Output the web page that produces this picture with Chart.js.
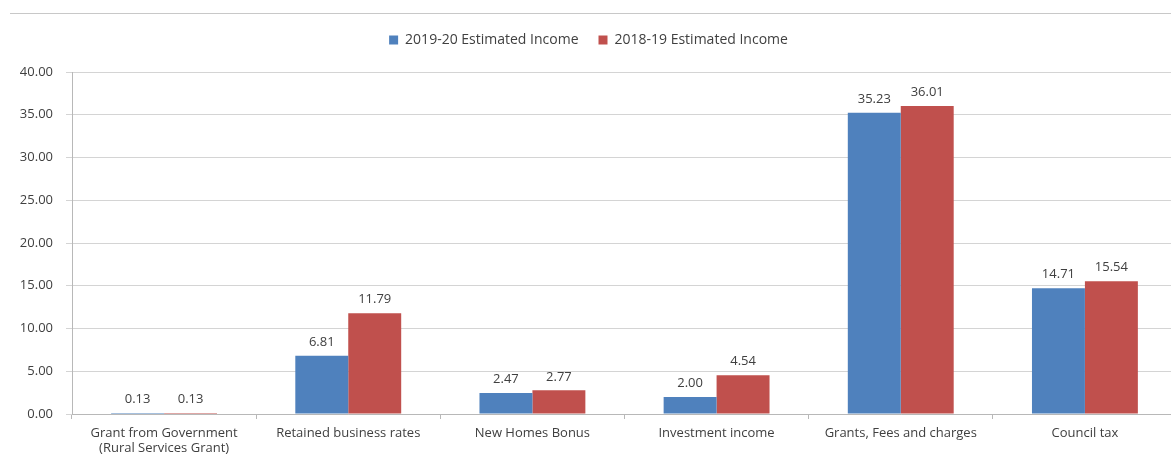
<!DOCTYPE html>
<html>
<head>
<meta charset="utf-8">
<script src="https://cdn.jsdelivr.net/npm/chart.js@4.4.0/dist/chart.umd.min.js"></script>
<style>
    html, body { margin: 0; padding: 0; background: #fff; overflow: hidden; }
    #wrap { position: relative; width: 1180px; height: 461px; }
    #topLine { position: absolute; left: 10px; right: 0; top: 13px; border-top: 1px solid #c8c8c8; }
</style>
</head>
<body>
<div id="wrap">
    <div id="topLine"></div>
    <canvas id="grafica" width="1180" height="461"></canvas>
</div>
<script>
const categorias = [
    ["Grant from Government", "(Rural Services Grant)"],
    "Retained business rates",
    "New Homes Bonus",
    "Investment income",
    "Grants, Fees and charges",
    "Council tax"
];
const ingresos2019 = [0.13, 6.81, 2.47, 2.00, 35.23, 14.71];
const ingresos2018 = [0.13, 11.79, 2.77, 4.54, 36.01, 15.54];
const nombreSerie2019 = "2019-20 Estimated Income";
const nombreSerie2018 = "2018-19 Estimated Income";

const colorTexto = "#404040";

// etiquetas de valor encima de cada barra
const etiquetasValor = {
    id: "etiquetasValor",
    afterDatasetsDraw(chart) {
        const ctx = chart.ctx;
        ctx.save();
        ctx.font = "13px 'Open Sans', sans-serif";
        ctx.fillStyle = colorTexto;
        ctx.textAlign = "center";
        ctx.textBaseline = "bottom";
        chart.data.datasets.forEach((ds, i) => {
            chart.getDatasetMeta(i).data.forEach((bar, j) => {
                ctx.fillText(ds.data[j].toFixed(2), bar.x, bar.y - 7);
            });
        });
        ctx.restore();
    }
};

// mas espacio debajo de la leyenda
const espacioLeyenda = {
    id: "espacioLeyenda",
    beforeLayout(chart) {
        const leyenda = chart.legend;
        if (leyenda && !leyenda._ajustada) {
            const fitOriginal = leyenda.fit;
            leyenda.fit = function () {
                fitOriginal.call(this);
                this.height += 15;
            };
            leyenda._ajustada = true;
        }
    }
};

const ctx = document.getElementById("grafica").getContext("2d");
new Chart(ctx, {
    type: "bar",
    data: {
        labels: categorias,
        datasets: [
            { label: nombreSerie2019, data: ingresos2019, backgroundColor: "#4f81bd" },
            { label: nombreSerie2018, data: ingresos2018, backgroundColor: "#c0504d" }
        ]
    },
    options: {
        responsive: false,
        animation: false,
        layout: { padding: { top: 13, right: 3, left: 0, bottom: 0 } },
        datasets: { bar: { categoryPercentage: 0.575, barPercentage: 1 } },
        plugins: {
            tooltip: { enabled: false },
            legend: {
                position: "top",
                labels: {
                    boxWidth: 9,
                    boxHeight: 9,
                    padding: 20,
                    color: colorTexto,
                    font: { size: 14, family: "'Open Sans', sans-serif" }
                }
            }
        },
        scales: {
            x: {
                afterFit(scale) { scale.height = 47; },
                grid: { drawOnChartArea: false, drawTicks: true, tickLength: 5, color: "#b8b8b8" },
                border: { color: "#b8b8b8" },
                ticks: {
                    color: colorTexto,
                    padding: 6,
                    maxRotation: 0,
                    font: { size: 13, family: "'Open Sans', sans-serif" }
                }
            },
            y: {
                min: 0,
                max: 40,
                afterFit(scale) { scale.width = 72; },
                grid: { color: "#d4d4d4", tickLength: 6 },
                border: { color: "#b8b8b8" },
                ticks: {
                    stepSize: 5,
                    padding: 13,
                    color: colorTexto,
                    font: { size: 13, family: "'Open Sans', sans-serif" },
                    callback: v => v.toFixed(2)
                }
            }
        }
    },
    plugins: [espacioLeyenda, etiquetasValor]
});
</script>
</body>
</html>
